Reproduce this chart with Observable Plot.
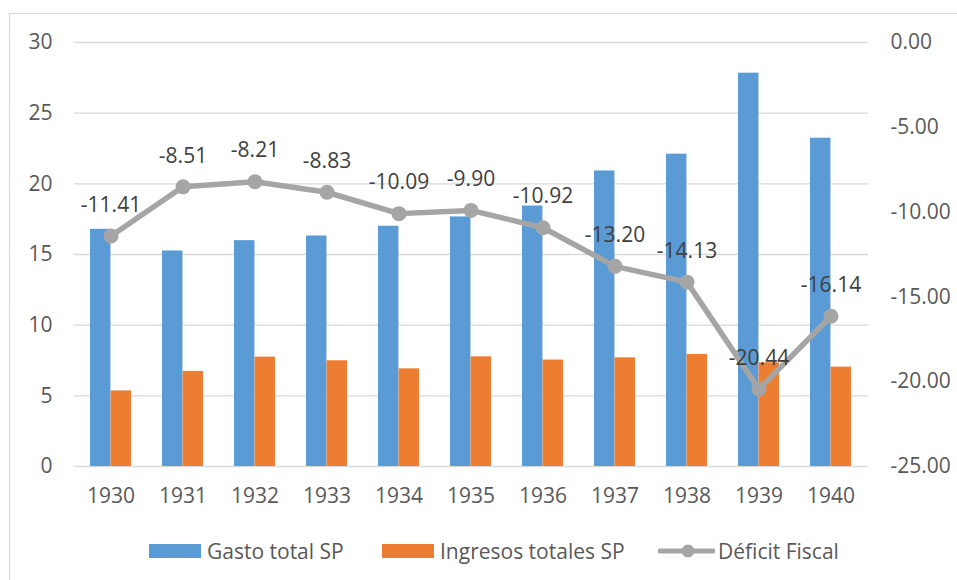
<!DOCTYPE html>
<html>
<head>
<meta charset="utf-8">
<script src="https://cdn.jsdelivr.net/npm/d3@7"></script>
<script src="https://cdn.jsdelivr.net/npm/@observablehq/plot@0.6"></script>
<style>
  html, body { margin: 0; padding: 0; background: #fff; }
  #wrap { position: relative; width: 957px; height: 580px; overflow: hidden; font-family: "Open Sans", sans-serif; }
  #frame { position: absolute; left: 9px; top: 13px; right: -5px; bottom: -5px; border-top: 1.5px solid #d9d9d9; border-left: 1.5px solid #d9d9d9; pointer-events: none; }
  #legend { position: absolute; left: 0; top: 538px; width: 957px; height: 26px; font-size: 21px; color: #595959; white-space: nowrap; }
  .sw { display: inline-block; width: 52px; height: 14px; margin-right: 6px; }
  .lsw { display: inline-block; width: 57px; height: 16px; margin-right: 3px; }
  .item { position: absolute; top: 0; height: 26px; display: flex; align-items: center; }
</style>
</head>
<body>
<div id="wrap">
  <div id="chart"></div>
  <div id="frame"></div>
  <div id="legend"></div>
</div>
<script>
const years = ["1930","1931","1932","1933","1934","1935","1936","1937","1938","1939","1940"];
const gasto = [16.78, 15.25, 15.98, 16.31, 17.00, 17.66, 18.43, 20.91, 22.10, 27.83, 23.23];
const ingresos = [5.35, 6.73, 7.74, 7.48, 6.91, 7.76, 7.53, 7.69, 7.93, 7.34, 7.03];
const deficit = [-11.41, -8.51, -8.21, -8.83, -10.09, -9.90, -10.92, -13.20, -14.13, -20.44, -16.14];
const leftTicks = [0, 5, 10, 15, 20, 25, 30];
const rightTicks = [0, -5, -10, -15, -20, -25];
const seriesNames = ["Gasto total SP", "Ingresos totales SP", "Déficit Fiscal"];
const colors = ["#5b9bd5", "#ed7d31", "#a5a5a5"];

// map right-axis values (-25..0) onto left scale (0..30)
const toLeft = v => (v + 25) * 30 / 25;

const W = 957, H = 530, mL = 74, mR = 89, mT = 42, mB = 64;
const pIn = 0.43, pOut = 0.215;
const step = (W - mL - mR) / (years.length - pIn + 2 * pOut);
const bw = step * (1 - pIn);

const barsG = years.map((y, i) => ({year: y, v: gasto[i]}));
const barsI = years.map((y, i) => ({year: y, v: ingresos[i]}));
const line = years.map((y, i) => ({year: y, d: deficit[i], v: toLeft(deficit[i])}));

const chart = Plot.plot({
  width: W, height: H,
  marginLeft: mL, marginRight: mR, marginTop: mT, marginBottom: mB,
  style: {fontFamily: "Open Sans, sans-serif", fontSize: "21px", color: "#595959", background: "transparent"},
  x: {type: "band", domain: years, paddingInner: pIn, paddingOuter: pOut, label: null},
  y: {domain: [0, 30], label: null},
  marks: [
    Plot.gridY(leftTicks, {stroke: "#d9d9d9", strokeOpacity: 1, strokeWidth: 1.3}),
    Plot.barY(barsG, {x: "year", y: "v", fill: colors[0], insetRight: bw / 2}),
    Plot.barY(barsI, {x: "year", y: "v", fill: colors[1], insetLeft: bw / 2}),
    Plot.line(line, {x: "year", y: "v", stroke: colors[2], strokeWidth: 5.5, strokeLinejoin: "round"}),
    Plot.dot(line, {x: "year", y: "v", r: 7.5, fill: colors[2], stroke: "none"}),
    Plot.text(line, {x: "year", y: "v", text: d => d.d.toFixed(2), dy: -31, fill: "#404040", fontSize: 21}),
    Plot.axisY({ticks: leftTicks, anchor: "left", tickSize: 0, tickPadding: 22, label: null, fill: "#595959"}),
    Plot.axisY({ticks: rightTicks.map(toLeft), anchor: "right", tickSize: 0, tickPadding: 22, label: null, fill: "#595959",
      tickFormat: v => (v * 25 / 30 - 25).toFixed(2)}),
    Plot.axisX({tickSize: 0, tickPadding: 22, label: null, fill: "#595959"})
  ]
});
document.getElementById("chart").appendChild(chart);

// legend
const lg = document.getElementById("legend");
const lefts = [149, 382, 658];
seriesNames.forEach((name, i) => {
  const it = document.createElement("span");
  it.className = "item";
  if (i < 2) {
    it.innerHTML = `<span class="sw" style="background:${colors[i]}"></span><span>${name}</span>`;
  } else {
    it.innerHTML = `<svg class="lsw" width="57" height="16"><line x1="2" y1="8" x2="55" y2="8" stroke="${colors[2]}" stroke-width="5" stroke-linecap="round"/><circle cx="30" cy="8" r="6.5" fill="${colors[2]}"/></svg><span>${name}</span>`;
  }
  it.style.left = lefts[i] + "px";
  lg.appendChild(it);
});
</script>
</body>
</html>
